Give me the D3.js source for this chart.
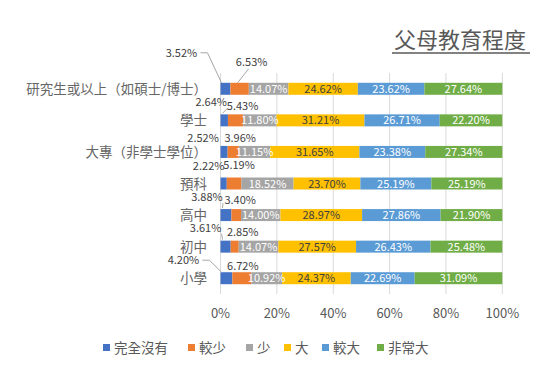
<!DOCTYPE html>
<html><head><meta charset="utf-8">
<script src="https://cdn.jsdelivr.net/npm/d3@7"></script>
<style>
body{margin:0;background:#fff;}
text{font-family:"Noto Sans CJK TC","Noto Sans",sans-serif;}
</style></head>
<body><svg id="c" width="547" height="377"></svg>
<script>
const categories = ["研究生或以上（如碩士/博士）","學士","大專（非學士學位）","預科","高中","初中","小學"];
const seriesNames = ["完全沒有","較少","少","大","較大","非常大"];
const s_none = [3.52,2.64,2.52,2.22,3.88,3.61,4.20];
const s_less = [6.53,5.43,3.96,5.19,3.40,2.85,6.72];
const s_few = [14.07,11.80,11.15,18.52,14.00,14.07,10.92];
const s_big = [24.62,31.21,31.65,23.70,28.97,27.57,24.37];
const s_bigger = [23.62,26.71,23.38,25.19,27.86,26.43,22.69];
const s_verybig = [27.64,22.20,27.34,25.19,21.90,25.48,31.09];
const tickValues = [0,20,40,60,80,100];
const title = "父母教育程度";

const colors = ["#4472C4","#ED7D31","#A5A5A5","#FFC000","#5B9BD5","#70AD47"];
const labelColors = [null,null,"#fff","#404040","#fff","#fff"];
// offsets for outside labels [dx,dy,leader] relative to segment mid / row center
const outsideNone = [[-44,-36,true],[-13,-18,true],[-21,-14,false],[-15,-18,false],[-19,-18,true],[-20,-19,true],[-43,-18,true]];
const outsideLess = [[12,-27,true],[7,-14,false],[7,-14,false],[5,-19,false],[4,-15,false],[8,-15,false],[1,-12,false]];

const series = [s_none,s_less,s_few,s_big,s_bigger,s_verybig];
const data = categories.map((c,i)=>{const o={cat:c}; seriesNames.forEach((s,j)=>o[s]=series[j][i]); return o;});
const stack = d3.stack().keys(seriesNames)(data);

const svg = d3.select("#c");
const x = d3.scaleLinear().domain([0,100]).range([220.5,502.3]);
const y = d3.scaleBand().domain(categories).range([73,294]).paddingInner(0.62).paddingOuter(0.31);

svg.append("g").selectAll("line").data(tickValues).join("line")
  .attr("x1",d=>x(d)).attr("x2",d=>x(d)).attr("y1",73).attr("y2",294)
  .attr("stroke","#D9D9D9").attr("stroke-width",1);

svg.append("g").selectAll("text").data(tickValues).join("text")
  .attr("x",d=>x(d)).attr("y",318).attr("text-anchor","middle")
  .attr("font-size",13).attr("fill","#595959").text(d=>d+"%");

svg.append("g").selectAll("text").data(categories).join("text")
  .attr("x",207).attr("y",d=>y(d)+y.bandwidth()/2+5).attr("text-anchor","end")
  .attr("font-size",13.5).attr("fill","#666666").text(d=>d);

const gs = svg.append("g").selectAll("g").data(stack).join("g").attr("fill",(d,i)=>colors[i]);
gs.selectAll("rect").data(d=>d).join("rect")
  .attr("x",d=>x(d[0])).attr("width",d=>x(d[1])-x(d[0]))
  .attr("y",d=>y(d.data.cat)).attr("height",y.bandwidth());

stack.forEach((s,si)=>{
  if(si<2) return;
  svg.append("g").selectAll("text").data(s).join("text")
    .attr("x",d=>(x(d[0])+x(d[1]))/2).attr("y",d=>y(d.data.cat)+y.bandwidth()/2+4)
    .attr("text-anchor","middle").attr("font-size",11).attr("fill",labelColors[si])
    .text(d=>(d[1]-d[0]).toFixed(2)+"%");
});

[[0,outsideNone],[1,outsideLess]].forEach(([si,offs])=>{
  stack[si].forEach((d,i)=>{
    const mx=(x(d[0])+x(d[1]))/2, cy=y(d.data.cat)+y.bandwidth()/2;
    const [dx,dy,lead]=offs[i];
    const lx=mx+dx, ly=cy+dy;
    svg.append("text").attr("x",lx).attr("y",ly+4).attr("text-anchor","middle")
      .attr("font-size",11).attr("fill","#404040").text((d[1]-d[0]).toFixed(2)+"%");
    if(lead){
      const top=y(d.data.cat);
      let pts;
      if(si===0){
        const sx=lx+17;
        pts = (dx<-30) ? [[sx+2,ly],[sx+9,ly],[x(d[0])+1,top]] : [[sx-1,ly+6],[x(d[0])+2,top-1]];
      } else {
        pts=[[lx-3,ly+7],[mx-2,top]];
      }
      svg.append("polyline").attr("points",pts.map(p=>p.join(",")).join(" "))
        .attr("fill","none").attr("stroke","#A6A6A6").attr("stroke-width",1);
    }
  });
});

svg.append("text").attr("x",460).attr("y",48).attr("text-anchor","middle")
  .attr("font-size",22).attr("fill","#595959").text(title);
svg.append("line").attr("x1",392).attr("x2",530).attr("y1",53).attr("y2",53)
  .attr("stroke","#595959").attr("stroke-width",1.5);

const legX=[103,188,246,284,322,377];
const lg = svg.append("g").selectAll("g").data(seriesNames).join("g")
  .attr("transform",(d,i)=>`translate(${legX[i]},348)`);
lg.append("rect").attr("x",0).attr("y",-4).attr("width",7).attr("height",7).attr("fill",(d,i)=>colors[i]);
lg.append("text").attr("x",11).attr("y",5).attr("font-size",13.5).attr("fill","#595959").text(d=>d);
</script></body></html>
